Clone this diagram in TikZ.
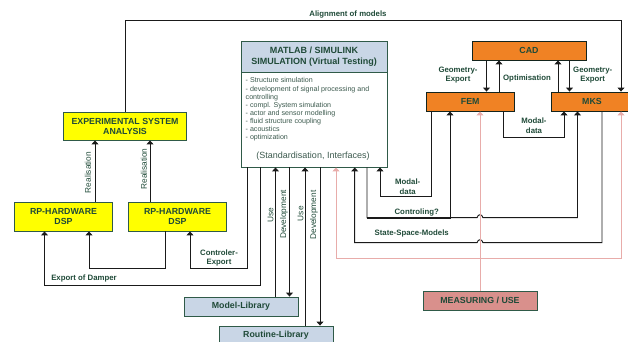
\documentclass[tikz,border=0pt]{standalone}
\usepackage{fontspec}
\setmainfont{Liberation Sans}
\usetikzlibrary{arrows.meta,calc}
\definecolor{txt}{HTML}{1F4A38}
\definecolor{bord}{HTML}{2F5A48}
\definecolor{ylw}{HTML}{FFFF00}
\definecolor{blu}{HTML}{C9D6E6}
\definecolor{org}{HTML}{F08224}
\definecolor{rosa}{HTML}{D9908C}
\definecolor{pnk}{HTML}{E8ACAA}
\definecolor{wire}{HTML}{1A1A1A}
\tikzset{
  boxbase/.style={draw=bord,line width=0.9pt,inner sep=0pt,align=center,text=txt,font=\fontsize{8.8}{10}\selectfont\bfseries},
  ybox/.style={boxbase,fill=ylw},
  bbox/.style={boxbase,fill=blu},
  obox/.style={boxbase,fill=org,draw=black!60!bord},
  rbox/.style={boxbase,fill=rosa},
  conn/.style={draw=wire,line width=0.95pt,-{Triangle[width=7pt,length=4pt]}},
  pinkconn/.style={draw=pnk,line width=1pt,-{Triangle[width=7pt,length=4pt]}},
  lab/.style={text=txt,inner sep=0pt,align=center,font=\fontsize{7.8}{9.5}\selectfont\bfseries},
  vlab/.style={text=txt,inner sep=0pt,rotate=90,font=\fontsize{8.3}{10}\selectfont},
}
\begin{document}
\begin{tikzpicture}[x=1pt,y=-1pt]
\useasboundingbox (0,0) rectangle (628,341);
\clip (0,0) rectangle (628,341);
% nodes
\node[ybox,minimum width=123pt,minimum height=28pt] (exp) at (125,126) {EXPERIMENTAL SYSTEM\\ANALYSIS};
\node[ybox,minimum width=98.5pt,minimum height=29pt] (rpa) at (63.5,216.5) {RP-HARDWARE\\DSP};
\node[ybox,minimum width=98pt,minimum height=29pt] (rpb) at (177.5,216.5) {RP-HARDWARE\\DSP};
\node[boxbase,fill=white,minimum width=146pt,minimum height=126pt] (mat) at (314,104) {};
\node[bbox,minimum width=146pt,minimum height=31pt,font=\fontsize{9}{11}\selectfont\bfseries] (math) at (314,56.5) {MATLAB / SIMULINK\\SIMULATION (Virtual Testing)};
\node[text=txt!70!gray,inner sep=0pt,anchor=north west,align=left,font=\fontsize{7.1}{8.15}\selectfont] (matb) at (245.5,77.5) {- Structure simulation\\- development of signal processing and\\controlling\\- compl. System simulation\\- actor and sensor modelling\\- fluid structure coupling\\- acoustics\\- optimization};
\node[text=txt!70!gray,inner sep=0pt,font=\fontsize{9}{10}\selectfont] (mats) at (313,156) {(Standardisation, Interfaces)};
\node[obox,minimum width=114pt,minimum height=19pt] (cad) at (529,50.5) {CAD};
\node[obox,minimum width=88.5pt,minimum height=19pt] (fem) at (470.25,101.5) {FEM};
\node[obox,minimum width=82pt,minimum height=19pt] (mks) at (592,101.5) {MKS};
\node[bbox,minimum width=114pt,minimum height=19pt] (mlib) at (241,306.5) {Model-Library};
\node[bbox,minimum width=114pt,minimum height=19pt] (rlib) at (276,335.5) {Routine-Library};
\node[rbox,minimum width=114pt,minimum height=19pt] (meas) at (480,300.5) {MEASURING / USE};
% black connectors
\draw[conn] (exp.north) |- ++(0,-91) -| ([xshift=29pt]mks.north);
\draw[conn] ([xshift=31.5pt]rpa.north) -- ([xshift=-30pt]exp.south);
\draw[conn] ([xshift=-27.5pt]rpb.north) -- ([xshift=25pt]exp.south);
\draw[conn] ([xshift=-12.5pt]rpb.south) |- ++(0,37.5) -| ([xshift=25.5pt]rpa.south);
\draw[conn] ([xshift=-54pt]mat.south) |- ++(0,118) -| ([xshift=-19pt]rpa.south);
\draw[conn] ([xshift=-67pt]mat.south) |- ++(0,101.5) -| ([xshift=12.5pt]rpb.south);
\draw[conn] ([xshift=34.5pt]mlib.north) -- ([xshift=-38.5pt]mat.south);
\draw[conn] ([xshift=-24.5pt]mat.south) -- ([xshift=48.5pt]mlib.north);
\draw[conn] ([xshift=29pt]rlib.north) -- ([xshift=-9pt]mat.south);
\draw[conn] ([xshift=6pt]mat.south) -- ([xshift=44pt]rlib.north);
\draw[conn] ([xshift=-39.25pt]fem.south) |- ++(0,85) -| ([xshift=66pt]mat.south);
% Controling? with hop over the pink line
\coordinate (hopA) at (477,217.7);
\coordinate (hopB) at (483,217.7);
\draw[conn] ([xshift=53pt]mat.south) |- (hopA) .. controls +(1,-4) and +(-1,-4) .. (hopB) -| ([xshift=-14.5pt]mks.south);
\draw[conn] ($(mat.south)+(53,50.7)$) -| ([xshift=-20.25pt]fem.south);
% State-space with hop
\coordinate (hopC) at (483,242.7);
\coordinate (hopD) at (477,242.7);
\draw[conn] ([xshift=10pt]mks.south) |- (hopC) .. controls +(-1,-4) and +(1,-4) .. (hopD) -| ([xshift=40.7pt]mat.south);
\draw[conn] ([xshift=33.25pt]fem.south) |- ++(0,26.5) -| ([xshift=-28pt]mks.south);
\draw[conn] ([xshift=-42.5pt]cad.south) -- ([xshift=16.25pt]fem.north);
\draw[conn] ([xshift=28.75pt]fem.north) -- ([xshift=-30pt]cad.south);
\draw[conn] ([xshift=-34pt]mks.north) -- ([xshift=29pt]cad.south);
\draw[conn] ([xshift=40.5pt]cad.south) -- ([xshift=-22.5pt]mks.north);
% pink connectors
\draw[pinkconn] (meas.north) -- ([xshift=9.75pt]fem.south);
\draw[pinkconn] ($(meas.north)+(0,-32.5)$) -| ([xshift=22pt]mat.south);
\draw[pinkconn] ($(meas.north)+(0,-32.5)$) -| ([xshift=29pt]mks.south);
% labels
\node[lab] (l1) at (348,14.5) {Alignment of models};
\node[lab] (l2) at (458,75) {Geometry-\\Export};
\node[lab] (l3) at (527,78) {Optimisation};
\node[lab] (l4) at (592.7,75) {Geometry-\\Export};
\node[lab] (l5) at (534,125.5) {Modal-\\data};
\node[lab] (l6) at (407.7,186.5) {Modal-\\data};
\node[lab] (l7) at (416.7,212) {Controling?};
\node[lab] (l8) at (411.7,233) {State-Space-Models};
\node[lab] (l9) at (84,278) {Export of Damper};
\node[lab] (l10) at (219,258) {Controler-\\Export};
\node[vlab] (v1) at (88,172.5) {Realisation};
\node[vlab] (v2) at (144,169) {Realisation};
\node[vlab] (v3) at (270.5,215) {Use};
\node[vlab] (v4) at (284,214.5) {Development};
\node[vlab] (v5) at (300.5,213.7) {Use};
\node[vlab] (v6) at (314,215) {Development};
\end{tikzpicture}
\end{document}
